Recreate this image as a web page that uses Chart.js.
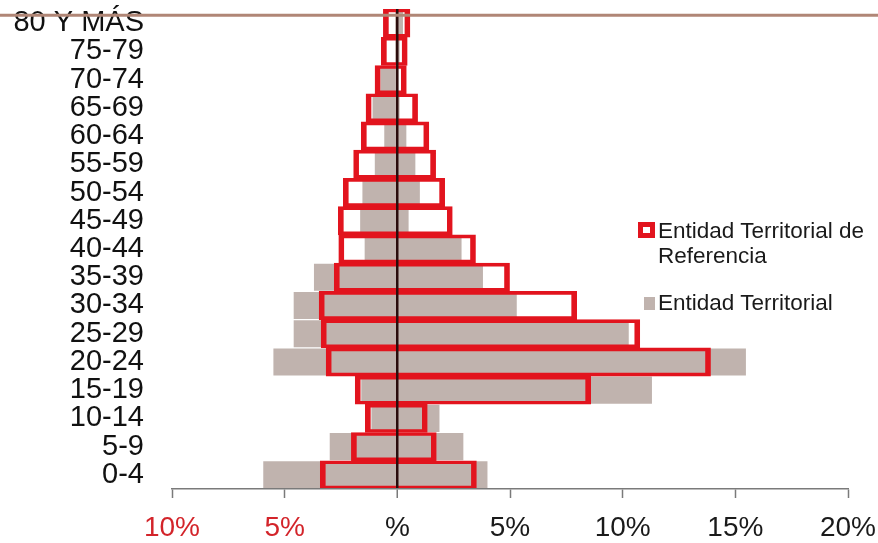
<!DOCTYPE html>
<html>
<head>
<meta charset="utf-8">
<script src="https://cdn.jsdelivr.net/npm/chart.js@4.4.1/dist/chart.umd.min.js"></script>
<style>
  body { margin: 0; background: #fff; }
  #wrap { position: relative; width: 878px; height: 543px; }
  #legend { position: absolute; left: 638px; top: 218px; width: 238px;
            font-family: "Liberation Sans", Arial, sans-serif; font-size: 22.5px;
            line-height: 25px; color: #1a1a1a; }
  .item { display: flex; align-items: flex-start; margin-bottom: 22px; }
  .box { flex: none; margin-right: 3px; box-sizing: border-box; }
</style>
</head>
<body>
<div id="wrap">
  <canvas id="pyramid" width="878" height="543"></canvas>
  <div id="legend"></div>
</div>
<script>
// age groups, top to bottom
const ageGroups = ['80 Y MÁS', '75-79', '70-74', '65-69', '60-64', '55-59', '50-54', '45-49',
  '40-44', '35-39', '30-34', '25-29', '20-24', '15-19', '10-14', '5-9', '0-4'];

// Entidad Territorial de Referencia (% left side / right side)
const refLeft  = [0.62, 0.71, 0.99, 1.39, 1.6, 1.94, 2.4, 2.62, 2.6, 2.8, 3.47, 3.38, 3.16, 1.87, 1.42, 2.04, 3.42];
const refRight = [0.56, 0.44, 0.4, 0.9, 1.4, 1.7, 2.1, 2.44, 3.47, 4.98, 7.96, 10.76, 13.9, 8.58, 1.33, 1.73, 3.51];

// Entidad Territorial
const terLeft  = [0.1, 0.1, 0.75, 1.1, 0.58, 1.0, 1.55, 1.65, 1.45, 3.7, 4.6, 4.6, 5.5, 1.6, 1.15, 3.0, 5.95];
const terRight = [0.25, 0.1, 0.05, 0.1, 0.4, 0.8, 1.0, 0.5, 2.85, 3.8, 5.3, 10.27, 15.47, 11.3, 1.87, 2.93, 4.0];

// x axis
const xMin = -10, xMax = 20, xStep = 5;

const RED = '#e2141e';
const GREY = '#c0b3ae';

Chart.defaults.font.family = '"Liberation Sans", Arial, sans-serif';

// brown line across the top row
const topLine = {
  id: 'topLine',
  afterDraw(chart) {
    const y = chart.scales.y;
    const band = y.getPixelForValue(1) - y.getPixelForValue(0);
    const py = y.getPixelForValue(0) - band * 0.28;
    const ctx = chart.ctx;
    ctx.save();
    ctx.strokeStyle = '#b08676';
    ctx.lineWidth = 3;
    ctx.beginPath();
    ctx.moveTo(0, py);
    ctx.lineTo(chart.width, py);
    ctx.stroke();
    ctx.restore();
  }
};

const chart = new Chart(document.getElementById('pyramid'), {
  type: 'bar',
  data: {
    labels: ageGroups,
    datasets: [
      {
        label: 'Entidad Territorial de Referencia',
        data: ageGroups.map((_, i) => [-refLeft[i], refRight[i]]),
        backgroundColor: 'rgba(0,0,0,0)',
        borderColor: RED,
        borderWidth: { left: 5, right: 5, top: 3, bottom: 3 },
        borderSkipped: false,
        barPercentage: 1,
        categoryPercentage: 1,
        grouped: false,
        order: 0
      },
      {
        label: 'Entidad Territorial',
        data: ageGroups.map((_, i) => [-terLeft[i], terRight[i]]),
        backgroundColor: GREY,
        borderWidth: 0,
        barPercentage: 0.96,
        categoryPercentage: 1,
        grouped: false,
        order: 1
      }
    ]
  },
  options: {
    indexAxis: 'y',
    responsive: false,
    animation: false,
    layout: { padding: { top: 9, right: 0, bottom: 0, left: 0 } },
    plugins: { legend: { display: false }, tooltip: { enabled: false } },
    scales: {
      x: {
        min: xMin,
        max: xMax,
        border: { display: true, color: '#7a7a7a', width: 1.5, z: 2 },
        grid: {
          z: 1,
          color: ctx => ctx.tick && ctx.tick.value === 0 ? '#2a0c0c' : 'rgba(0,0,0,0)',
          lineWidth: ctx => ctx.tick && ctx.tick.value === 0 ? 2.5 : 1,
          tickColor: '#7a7a7a',
          tickWidth: 1.5,
          tickLength: 9
        },
        ticks: {
          stepSize: xStep,
          padding: 13,
          font: { size: 28 },
          color: ctx => ctx.tick.value < 0 ? '#d3242a' : '#1a1a1a',
          callback: v => v === 0 ? '%' : Math.abs(v) + '%'
        },
        afterFit: scale => {
          scale.height = 54;
          scale.paddingLeft = 0;
          scale.paddingRight = 30;
        }
      },
      y: {
        border: { display: false },
        grid: { display: false, drawTicks: false },
        ticks: { autoSkip: false, padding: 28, font: { size: 29 }, color: '#111' },
        afterFit: scale => {
          scale.width = 172;
          scale.paddingTop = 0;
          scale.paddingBottom = 0;
        }
      }
    }
  },
  plugins: [topLine]
});

// legend built from the datasets
const legend = document.getElementById('legend');
chart.data.datasets.forEach((ds, i) => {
  const item = document.createElement('div');
  item.className = 'item';
  const box = document.createElement('span');
  box.className = 'box';
  if (i === 0) {
    box.style.cssText = 'width:17px;height:16px;margin-top:4px;border:5px solid ' + RED + ';background:#fff;';
  } else {
    box.style.cssText = 'width:11px;height:13px;margin-top:7px;margin-left:6px;margin-right:3px;background:' + GREY + ';';
  }
  const txt = document.createElement('span');
  txt.textContent = ds.label;
  item.appendChild(box);
  item.appendChild(txt);
  legend.appendChild(item);
});
</script>
</body>
</html>
